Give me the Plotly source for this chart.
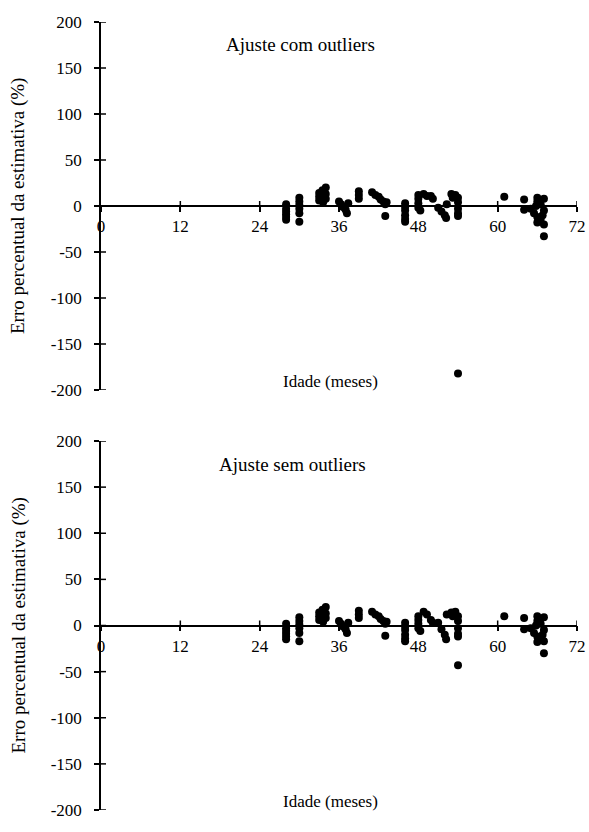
import plotly.graph_objects as go

# ---- data ----
idade = [28, 28, 28, 28, 28, 28,
         30, 30, 30, 30, 30, 30,
         33, 33, 33, 33.5, 34, 34, 34, 33.6,
         36, 36.3, 36.6, 37, 37.2, 37.4,
         39, 39, 39,
         41, 41.5, 42, 42.3, 42.7, 43, 43, 43.2,
         46, 46, 46, 46, 46, 46,
         48, 48, 48, 48, 48.3, 48.8, 49.3, 49.9, 50.2,
         51, 51.5, 52, 52.2, 52.3,
         53, 53.2, 53.6, 54, 54, 54, 54, 54,
         54,
         61,
         64, 64,
         65, 65.5, 66, 66, 66, 66, 66.5, 66.5, 67, 67, 67, 66.8, 65.8,
         67]

erro_com = [2, -3, -6, -9, -12, -15,
            9, 5, 1, -3, -8, -17,
            6, 10, 14, 17, 20, 13, 8, 4,
            5, 2, -1, -4, -8, 3,
            16, 12, 8,
            15, 12, 10, 7, 5, 2, -11, 4,
            3, -1, -5, -10, -14, -17,
            12, 8, 3, -2, -5, 13, 11, 11, 8,
            -2, -6, -10, -13, 2,
            13, 9, 12, 9, 4, -3, -8, -11,
            -182,
            10,
            7, -4,
            -3, -8, -12, -18, 5, 9, -15, 2, 8, -5, -20, -10, 0,
            -33]

erro_sem = [2, -3, -6, -9, -12, -15,
            9, 5, 1, -3, -8, -17,
            6, 10, 14, 17, 20, 13, 8, 4,
            5, 2, -1, -4, -8, 3,
            16, 12, 8,
            15, 12, 10, 7, 5, 2, -11, 4,
            3, -1, -5, -10, -14, -17,
            10, 6, 2, -3, -6, 15, 12, 6, 3,
            3, -4, -10, -15, 12,
            14, 10, 15, 10, 5, -3, -9, -12,
            -43,
            10,
            8, -4,
            -3, -8, -12, -18, 5, 10, -15, 2, 9, -5, -17, -10, 0,
            -30]

x_ticks = [0, 12, 24, 36, 48, 60, 72]
y_ticks = [-200, -150, -100, -50, 0, 50, 100, 150, 200]

titulos = ["Ajuste com outliers", "Ajuste sem outliers"]
eixo_x = "Idade (meses)"
eixo_y = "Erro percentual da estimativa (%)"

W, H = 589, 832
FONT = "Liberation Serif, Times New Roman, serif"

# plot areas in pixels (left, right, top, bottom)
x_left, x_right = 101, 577
panels = [(22, 390), (441, 810)]

fig = go.Figure()
layout = dict(width=W, height=H, margin=dict(l=0, r=0, t=0, b=0, autoexpand=False),
              paper_bgcolor="white", plot_bgcolor="white",
              showlegend=False, font=dict(family=FONT, color="black"))
shapes = []
annotations = []
series = [erro_com, erro_sem]

for i, (top, bot) in enumerate(panels):
    n = "" if i == 0 else str(i + 1)
    xa, ya = "x" + n, "y" + n
    fig.add_trace(go.Scatter(x=idade, y=series[i], mode="markers",
                             marker=dict(color="black", size=8),
                             xaxis=xa, yaxis=ya, cliponaxis=False))
    y0 = (H - bot) / H
    y1 = (H - top) / H
    ymid = (y0 + y1) / 2
    layout["xaxis" + n] = dict(domain=[x_left / W, x_right / W], range=[0, 72],
                               anchor="free", position=ymid, automargin=False,
                               tickvals=x_ticks, ticktext=[str(v) for v in x_ticks],
                               ticks="outside", ticklen=5, tickwidth=1.5, tickcolor="black",
                               showline=True, linecolor="black", linewidth=1.5,
                               showgrid=False, zeroline=False,
                               tickfont=dict(family=FONT, size=17, color="black"),
                               ticklabelstandoff=0)
    layout["yaxis" + n] = dict(domain=[y0, y1], range=[-200, 200], anchor=xa,
                               automargin=False,
                               tickvals=y_ticks, ticktext=[str(v) for v in y_ticks],
                               ticks="outside", ticklen=5, tickwidth=1.5, tickcolor="black",
                               showline=True, linecolor="black", linewidth=1.5,
                               showgrid=False, zeroline=False,
                               tickfont=dict(family=FONT, size=17, color="black"),
                               ticklabelstandoff=9)
    # inner halves of the crossing tick marks
    for v in x_ticks[1:]:
        shapes.append(dict(type="line", xref=xa, yref=ya, x0=v, x1=v,
                           ysizemode="pixel", yanchor=0, y0=0, y1=5,
                           line=dict(color="black", width=1.5)))
    for v in y_ticks:
        shapes.append(dict(type="line", xref=xa, yref=ya,
                           xsizemode="pixel", xanchor=0, x0=0, x1=5, y0=v, y1=v,
                           line=dict(color="black", width=1.5)))
    annotations.append(dict(text=titulos[i], xref="paper", yref="paper",
                            x=(300 if i == 0 else 292) / W, y=(H - (top + 23)) / H,
                            xanchor="center", yanchor="middle",
                            showarrow=False, font=dict(family=FONT, size=19, color="black")))
    annotations.append(dict(text=eixo_x, xref="paper", yref="paper",
                            x=330 / W, y=(H - (bot - 9)) / H,
                            xanchor="center", yanchor="middle",
                            showarrow=False, font=dict(family=FONT, size=17, color="black")))
    annotations.append(dict(text=eixo_y, xref="paper", yref="paper",
                            x=18 / W, y=(H - (top + bot) / 2) / H, textangle=-90,
                            xanchor="center", yanchor="middle",
                            showarrow=False, font=dict(family=FONT, size=19, color="black")))

layout["shapes"] = shapes
layout["annotations"] = annotations
fig.update_layout(**layout)
fig.write_html("out.html")
